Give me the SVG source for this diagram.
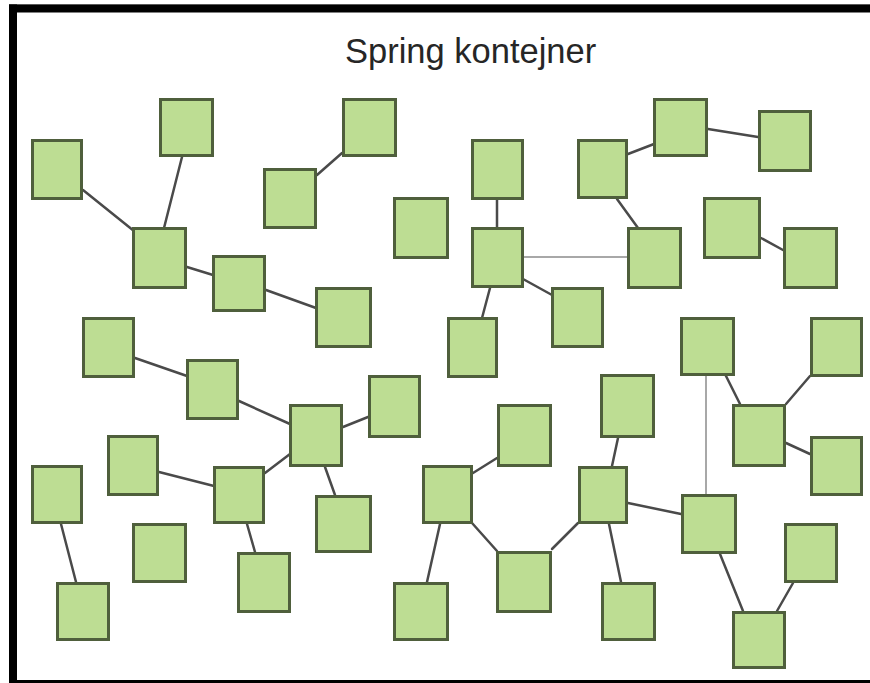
<svg xmlns="http://www.w3.org/2000/svg" width="870" height="683" viewBox="0 0 870 683">
<style>
.n rect{fill:#bddd93;stroke:#4f5f3c;stroke-width:3}
.c line{stroke:#4a4a4a;stroke-width:2.5;stroke-linecap:round}
.c line.t{stroke:#a8a8a8;stroke-width:2}
.title{font-family:"Liberation Sans",Arial,sans-serif;font-size:34.5px;fill:#262626}
</style>
<rect x="0" y="0" width="870" height="683" fill="#ffffff"/>
<g id="frame">
<rect x="9" y="4" width="861" height="1" fill="#b0b0b0"/>
<rect x="9" y="4.5" width="861" height="8" fill="#000"/>
<rect x="9" y="4.5" width="8" height="678.5" fill="#000"/>
<rect x="9" y="680" width="861" height="3" fill="#000"/>
</g>
<text class="title" x="345" y="63">Spring kontejner</text>
<g id="connectors" class="c">
<line x1="83" y1="190" x2="134" y2="231"/>
<line x1="182" y1="157" x2="164" y2="228"/>
<line x1="187" y1="267" x2="213" y2="275"/>
<line x1="266" y1="290" x2="316" y2="308"/>
<line x1="317" y1="175" x2="342" y2="153"/>
<line x1="497" y1="200" x2="497" y2="227"/>
<line class="t" x1="524" y1="257" x2="627" y2="257"/>
<line x1="523" y1="279" x2="552" y2="295"/>
<line x1="490" y1="288" x2="482" y2="318"/>
<line x1="628" y1="154" x2="654" y2="144"/>
<line x1="708" y1="129" x2="758" y2="137"/>
<line x1="617" y1="199" x2="638" y2="228"/>
<line x1="761" y1="238" x2="783" y2="250"/>
<line x1="135" y1="358" x2="187" y2="376"/>
<line x1="239" y1="401" x2="290" y2="424"/>
<line x1="343" y1="427" x2="368" y2="417"/>
<line x1="159" y1="472" x2="214" y2="486"/>
<line x1="265" y1="473" x2="290" y2="454"/>
<line x1="325" y1="467" x2="335" y2="495"/>
<line x1="247" y1="524" x2="255" y2="552"/>
<line x1="61" y1="524" x2="76" y2="582"/>
<line x1="440" y1="524" x2="427" y2="582"/>
<line x1="473" y1="473" x2="497" y2="458"/>
<line x1="472" y1="523" x2="497" y2="551"/>
<line x1="552" y1="549" x2="578" y2="523"/>
<line x1="612" y1="466" x2="618" y2="438"/>
<line x1="609" y1="524" x2="621" y2="582"/>
<line x1="628" y1="503" x2="681" y2="514"/>
<line class="t" x1="706" y1="376" x2="706" y2="494"/>
<line x1="726" y1="376" x2="740" y2="404"/>
<line x1="786" y1="404" x2="810" y2="376"/>
<line x1="786" y1="443" x2="810" y2="454"/>
<line x1="720" y1="554" x2="743" y2="611"/>
<line x1="777" y1="611" x2="793" y2="583"/>
</g>
<g class="n">
<g id="nA"><rect x="32.5" y="140.5" width="49" height="58"/></g>
<g id="nB"><rect x="160.5" y="99.5" width="52" height="56"/></g>
<g id="nC"><rect x="133.5" y="228.5" width="52" height="59"/></g>
<g id="nD"><rect x="213.5" y="256.5" width="51" height="54"/></g>
<g id="nE"><rect x="316.5" y="288.5" width="54" height="58"/></g>
<g id="nF"><rect x="264.5" y="169.5" width="51" height="58"/></g>
<g id="nG"><rect x="343.5" y="99.5" width="52" height="56"/></g>
<g id="nH"><rect x="394.5" y="198.5" width="53" height="59"/></g>
<g id="nI"><rect x="83.5" y="318.5" width="50" height="58"/></g>
<g id="nJ"><rect x="472.5" y="140.5" width="50" height="58"/></g>
<g id="nK"><rect x="472.5" y="228.5" width="50" height="58"/></g>
<g id="nL"><rect x="578.5" y="140.5" width="48" height="57"/></g>
<g id="nM"><rect x="654.5" y="99.5" width="52" height="56"/></g>
<g id="nN"><rect x="759.5" y="111.5" width="51" height="59"/></g>
<g id="nO"><rect x="628.5" y="228.5" width="52" height="59"/></g>
<g id="nP"><rect x="704.5" y="198.5" width="55" height="59"/></g>
<g id="nQ"><rect x="784.5" y="228.5" width="52" height="59"/></g>
<g id="nR"><rect x="552.5" y="288.5" width="50" height="58"/></g>
<g id="nS"><rect x="448.5" y="318.5" width="48" height="58"/></g>
<g id="nT"><rect x="681.5" y="318.5" width="52" height="56"/></g>
<g id="nU"><rect x="811.5" y="318.5" width="50" height="57"/></g>
<g id="nV"><rect x="187.5" y="360.5" width="50" height="58"/></g>
<g id="nW"><rect x="290.5" y="405.5" width="51" height="60"/></g>
<g id="nX"><rect x="369.5" y="376.5" width="50" height="60"/></g>
<g id="nY"><rect x="108.5" y="436.5" width="49" height="58"/></g>
<g id="nZ"><rect x="214.5" y="467.5" width="49" height="55"/></g>
<g id="nAA"><rect x="32.5" y="466.5" width="49" height="56"/></g>
<g id="nAB"><rect x="133.5" y="524.5" width="52" height="57"/></g>
<g id="nAC"><rect x="316.5" y="496.5" width="54" height="55"/></g>
<g id="nAD"><rect x="238.5" y="553.5" width="51" height="58"/></g>
<g id="nAE"><rect x="57.5" y="583.5" width="51" height="56"/></g>
<g id="nAF"><rect x="423.5" y="466.5" width="48" height="56"/></g>
<g id="nAG"><rect x="394.5" y="583.5" width="53" height="56"/></g>
<g id="nAH"><rect x="498.5" y="405.5" width="52" height="60"/></g>
<g id="nAI"><rect x="601.5" y="375.5" width="52" height="61"/></g>
<g id="nAJ"><rect x="579.5" y="467.5" width="47" height="55"/></g>
<g id="nAK"><rect x="682.5" y="495.5" width="53" height="57"/></g>
<g id="nAL"><rect x="733.5" y="405.5" width="51" height="60"/></g>
<g id="nAM"><rect x="811.5" y="437.5" width="50" height="57"/></g>
<g id="nAN"><rect x="497.5" y="552.5" width="53" height="59"/></g>
<g id="nAO"><rect x="602.5" y="583.5" width="52" height="56"/></g>
<g id="nAP"><rect x="785.5" y="524.5" width="51" height="57"/></g>
<g id="nAQ"><rect x="733.5" y="612.5" width="51" height="55"/></g>
</g>
</svg>
